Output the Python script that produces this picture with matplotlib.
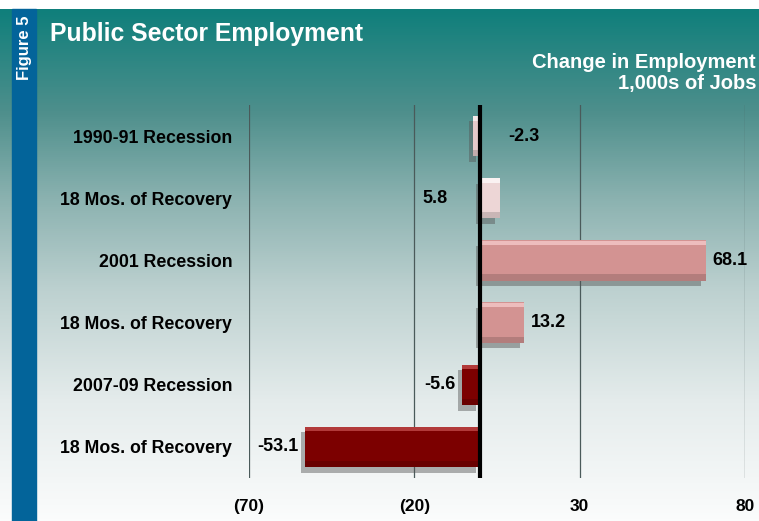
import matplotlib
matplotlib.use("Agg")
import matplotlib.pyplot as plt
import matplotlib.patheffects as pe
import numpy as np
from matplotlib.colors import LinearSegmentedColormap

categories = ["1990-91 Recession", "18 Mos. of Recovery", "2001 Recession",
              "18 Mos. of Recovery", "2007-09 Recession", "18 Mos. of Recovery"]
values = [-2.3, 5.8, 68.1, 13.2, -5.6, -53.1]
bar_colors = ["#E6CBCB", "#EDD6D6", "#D39392", "#D39392", "#7C0000", "#7C0000"]
highlight_colors = ["#F6EAEA", "#FAF2F2", "#EDBDBD", "#EDBDBD", "#B23A3A", "#B23A3A"]
label_side = ["right", "left", "right", "right", "left", "left"]
xticks = [-70, -20, 30, 80]
xticklabels = ["(70)", "(20)", "30", "80"]

W, H = 759, 521
plt.rcParams['font.family'] = ['Liberation Sans', 'DejaVu Sans']
plt.rcParams['font.weight'] = 'bold'
fig = plt.figure(figsize=(W / 100, H / 100), dpi=100)

# background gradient
bg = fig.add_axes([0, 0, 1, 1], zorder=0)
bg.set_xlim(0, W)
bg.set_ylim(H, 0)
bg.axis("off")
stops = [(0.0, "#0F7F7B"), (0.20, "#4E8F8C"), (0.37, "#8BB2B0"), (0.55, "#BDD1D0"),
         (0.77, "#E5ECEC"), (1.0, "#FBFCFC")]
cmap = LinearSegmentedColormap.from_list("g", stops)
grad = np.linspace(0, 1, 512).reshape(-1, 1)
bg.imshow(grad, cmap=cmap, extent=[0, W, H, 9], aspect="auto", zorder=0)
bg.add_patch(plt.Rectangle((12, 9), 24, H - 9, color="#03649A", zorder=1))
bg.text(24, 48, "Figure 5", rotation=90, color="white", fontsize=12,
        ha="center", va="center", fontweight="bold", zorder=2)
bg.text(50, 34, "Public Sector Employment", color="white", fontsize=17.8,
        ha="left", va="center", fontweight="bold", zorder=2)
bg.text(756, 62, "Change in Employment", color="white", fontsize=14.5,
        ha="right", va="center", fontweight="bold", zorder=2)
bg.text(756, 84, "1,000s of Jobs", color="white", fontsize=14.5,
        ha="right", va="center", fontweight="bold", zorder=2)

# main axes
x0, x1 = 249, 745
y0, y1 = 105, 478
ax = fig.add_axes([x0 / W, 1 - y1 / H, (x1 - x0) / W, (y1 - y0) / H], zorder=1)
ax.patch.set_alpha(0)
ax.set_xlim(-70, 80)
ax.set_ylim(5.5, -0.5)
for s in ax.spines.values():
    s.set_visible(False)
for xv in xticks:
    ax.axvline(xv, color="#4A5A5A", lw=0.9, zorder=1)

ypos = np.arange(len(values))
bh = 0.65
shadow = [pe.SimplePatchShadow(offset=(-3, -4), shadow_rgbFace="#555555", alpha=0.45), pe.Normal()]
bars = ax.barh(ypos, values, height=bh, color=bar_colors, zorder=3)
for b in bars:
    b.set_path_effects(shadow)
# bevel: light strip on top, dark strip on bottom
ax.barh(ypos - bh / 2 + 0.04, values, height=0.07, color=highlight_colors, zorder=4)
ax.barh(ypos + bh / 2 - 0.05, values, height=0.1, color="black", alpha=0.15, zorder=4)

ax.axvline(0, color="black", lw=3, zorder=5)

for y, v, side in zip(ypos, values, label_side):
    txt = f"{v:.1f}"
    if side == "right":
        xp = max(v, 0) + 2 if v > 0 else 8.5
        ax.text(xp, y, txt, ha="left", va="center", fontsize=13, fontweight="bold", zorder=6)
    else:
        xp = min(v, 0) - 2 if v < 0 else -10
        ax.text(xp, y, txt, ha="right", va="center", fontsize=13, fontweight="bold", zorder=6)

ax.set_yticks(ypos)
ax.set_yticklabels(categories, fontsize=12.8, fontweight="bold")
ax.set_xticks(xticks)
ax.set_xticklabels(xticklabels, fontsize=12.5, fontweight="bold")
ax.tick_params(axis="y", length=0, pad=12)
ax.tick_params(axis="x", length=0, pad=15)

fig.savefig("out.png", dpi=100)
